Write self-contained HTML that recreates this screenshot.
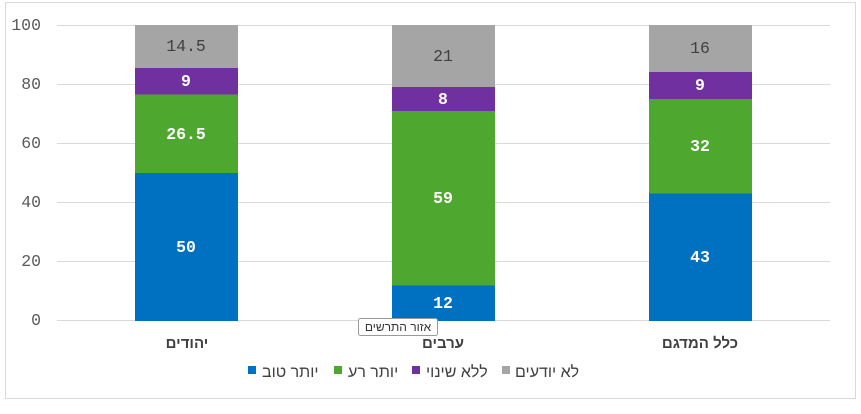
<!DOCTYPE html>
<html><head><meta charset="utf-8"><style>
body{margin:0;background:#fff}
svg text{font-family:"Liberation Sans","DejaVu Sans",sans-serif}
svg text.m{font-family:"Liberation Mono",monospace}
</style></head><body>
<svg width="861" height="409" xmlns="http://www.w3.org/2000/svg">
<rect x="5.5" y="2.5" width="850" height="396" fill="#fff" stroke="#d9d9d9"/>
<g stroke="#d9d9d9" stroke-width="1">
<line x1="57" x2="830" y1="25.5" y2="25.5"/>
<line x1="57" x2="830" y1="84.5" y2="84.5"/>
<line x1="57" x2="830" y1="143.5" y2="143.5"/>
<line x1="57" x2="830" y1="202.5" y2="202.5"/>
<line x1="57" x2="830" y1="261.5" y2="261.5"/>
<line x1="57" x2="830" y1="320.5" y2="320.5"/>
</g>
<g font-size="16.5" fill="#595959" text-anchor="end">
<text class="m" x="41" y="30">100</text><text class="m" x="41" y="89">80</text><text class="m" x="41" y="148">60</text>
<text class="m" x="41" y="207">40</text><text class="m" x="41" y="266">20</text><text class="m" x="41" y="325">0</text>
</g>
<rect x="135" y="173" width="103" height="148" fill="#0070c0"/>
<rect x="135" y="94.5" width="103" height="78.5" fill="#4ea72e"/>
<rect x="135" y="68" width="103" height="26.5" fill="#7030a0"/>
<rect x="135" y="25" width="103" height="43" fill="#a5a5a5"/>
<rect x="392" y="285.5" width="103" height="35.5" fill="#0070c0"/>
<rect x="392" y="111" width="103" height="174.5" fill="#4ea72e"/>
<rect x="392" y="87" width="103" height="24" fill="#7030a0"/>
<rect x="392" y="25" width="103" height="62" fill="#a5a5a5"/>
<rect x="649" y="193.5" width="103" height="127.5" fill="#0070c0"/>
<rect x="649" y="99" width="103" height="94.5" fill="#4ea72e"/>
<rect x="649" y="72" width="103" height="27" fill="#7030a0"/>
<rect x="649" y="25" width="103" height="47" fill="#a5a5a5"/>
<g font-size="16.5" font-weight="bold" fill="#fff" text-anchor="middle">
<text class="m" x="186" y="252">50</text><text class="m" x="186" y="139">26.5</text><text class="m" x="186" y="86">9</text>
<text class="m" x="443" y="308">12</text><text class="m" x="443" y="203">59</text><text class="m" x="443" y="104">8</text>
<text class="m" x="700" y="262">43</text><text class="m" x="700" y="151">32</text><text class="m" x="700" y="90">9</text>
</g>
<g font-size="16.5" fill="#404040" text-anchor="middle">
<text class="m" x="186" y="51">14.5</text><text class="m" x="443" y="61">21</text><text class="m" x="700" y="53">16</text>
</g>
<g font-size="15" font-weight="bold" fill="#404040" text-anchor="middle">
<text x="187" y="348">יהודים</text><text x="443" y="348">ערבים</text><text x="700" y="348">כלל המדגם</text>
</g>
<rect x="358.5" y="318.5" width="79" height="17" rx="2" fill="#fff" stroke="#999"/>
<text x="398" y="331" font-size="12" fill="#333" text-anchor="middle">אזור התרשים</text>
<g font-size="16" fill="#404040">
<rect x="248" y="366" width="8" height="8" fill="#0070c0"/><text x="262" y="377">יותר טוב</text>
<rect x="334" y="366" width="8" height="8" fill="#4ea72e"/><text x="348" y="377">יותר רע</text>
<rect x="412" y="366" width="8" height="8" fill="#7030a0"/><text x="426" y="377">ללא שינוי</text>
<rect x="502" y="366" width="8" height="8" fill="#a5a5a5"/><text x="515" y="377">לא יודעים</text>
</g>
</svg>
</body></html>
